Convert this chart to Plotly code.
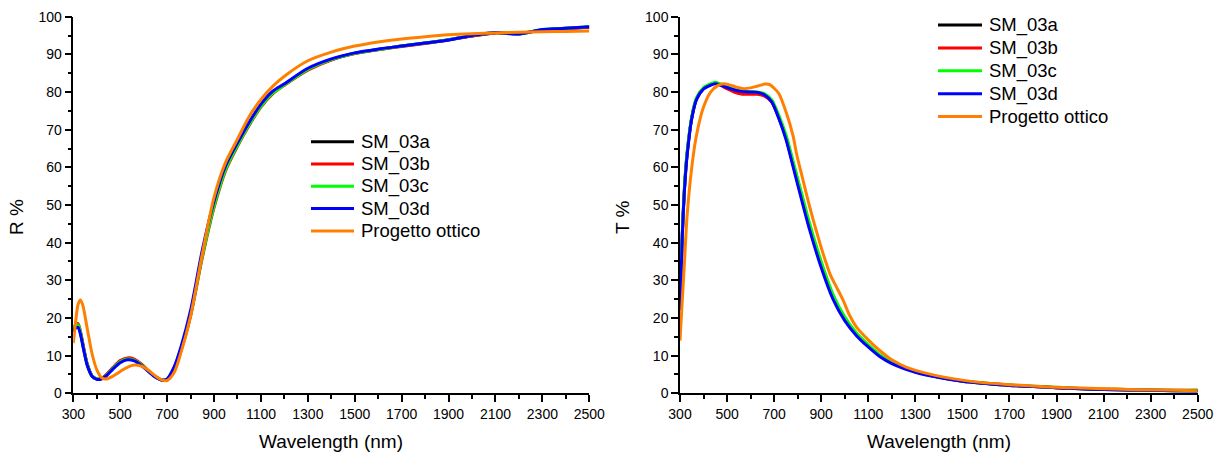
import plotly.graph_objects as go

# ---------------- data: reflectance (left panel) ----------------
WL_R = [300, 310, 320, 330, 345, 360, 380, 400, 420, 440, 470, 500, 530, 560, 590, 620, 650, 680, 700,
        730, 760, 800, 850, 900, 950, 1000, 1050, 1100, 1150, 1200, 1300, 1400, 1500, 1600, 1700, 1800,
        1900, 2000, 2100, 2200, 2300, 2400, 2500]
R_SM_03a = [16.8, 17.9, 18.0, 16.2, 11.6, 7.5, 4.6, 3.8, 3.9, 4.8, 6.8, 8.5, 9.2, 8.9, 7.6, 5.9, 4.4, 3.5, 3.7,
            6.8, 12.0, 21.0, 36.8, 50.0, 59.8, 66.0, 71.5, 76.3, 79.8, 82.0, 86.0, 88.6, 90.3, 91.3, 92.2, 93.0,
            93.9, 94.9, 95.7, 95.5, 96.5, 96.9, 97.2]
R_SM_03b = [17.2, 18.3, 18.5, 16.6, 11.9, 7.7, 4.7, 3.8, 3.9, 4.9, 6.9, 8.7, 9.4, 9.1, 7.8, 6.0, 4.4, 3.5, 3.6,
            6.5, 11.5, 20.5, 36.0, 49.3, 59.2, 65.6, 71.2, 76.0, 79.5, 81.8, 85.8, 88.5, 90.2, 91.2, 92.1, 92.9,
            93.8, 94.9, 95.7, 95.4, 96.5, 96.8, 97.2]
R_SM_03c = [16.9, 18.0, 18.2, 16.3, 11.6, 7.5, 4.6, 3.8, 3.9, 4.7, 6.7, 8.4, 9.1, 8.8, 7.6, 5.9, 4.4, 3.5, 3.6,
            6.7, 11.8, 20.8, 36.4, 49.7, 59.5, 65.8, 71.4, 76.2, 79.7, 81.9, 86.0, 88.6, 90.3, 91.3, 92.2, 93.0,
            93.9, 95.0, 95.8, 95.4, 96.6, 96.9, 97.4]
R_SM_03d = [16.3, 17.3, 17.5, 15.8, 11.3, 7.3, 4.5, 3.7, 3.8, 4.6, 6.5, 8.1, 8.9, 8.6, 7.4, 5.8, 4.3, 3.5, 3.8,
            7.0, 12.5, 22.0, 38.0, 51.0, 60.5, 66.5, 72.0, 76.8, 80.2, 82.2, 86.3, 88.8, 90.4, 91.4, 92.2, 93.0,
            93.8, 95.0, 95.8, 95.4, 96.6, 96.9, 97.3]
WL_R_DESIGN = [300, 310, 320, 330, 340, 360, 380, 400, 420, 440, 470, 500, 530, 560, 590, 620, 650, 680, 700,
               730, 760, 800, 850, 900, 947, 1000, 1050, 1100, 1150, 1200, 1300, 1400, 1500, 1600, 1700, 1800,
               1900, 2000, 2100, 2200, 2300, 2400, 2500]
R_DESIGN = [13.3, 19.0, 23.5, 24.8, 23.5, 17.0, 10.5, 6.3, 4.2, 3.8, 4.6, 5.8, 6.9, 7.5, 7.2, 6.1, 4.6, 3.5, 3.4,
            5.5, 11.0, 20.5, 37.0, 52.0, 61.0, 67.5, 73.5, 78.0, 81.5, 84.2, 88.3, 90.6, 92.2, 93.3, 94.1, 94.7,
            95.2, 95.5, 95.7, 95.9, 96.0, 96.1, 96.2]

# ---------------- data: transmittance (right panel) ----------------
WL_T = [300, 310, 320, 330, 350, 370, 400, 430, 450, 470, 500, 530, 560, 600, 630, 660, 690, 720, 750, 780,
        810, 850, 900, 950, 1000, 1050, 1100, 1150, 1200, 1300, 1400, 1500, 1600, 1700, 1800, 1900, 2000,
        2100, 2200, 2300, 2400, 2500]
T_SM_03a = [22.3, 42.3, 55.3, 63.3, 73.1, 78.1, 80.9, 81.9, 82.3, 81.9, 81.1, 80.4, 80.0, 79.8, 79.7, 79.1,
            77.4, 73.2, 67.9, 60.8, 53.6, 44.2, 34.0, 25.6, 19.7, 15.6, 12.5, 9.9, 8.1, 5.7, 4.3, 3.2, 2.6, 2.1,
            1.8, 1.5, 1.2, 1.0, 0.9, 0.8, 0.7, 0.7]
T_SM_03b = [22.5, 42.5, 55.5, 63.5, 73.2, 78.2, 80.9, 81.9, 82.3, 81.8, 80.9, 80.0, 79.5, 79.4, 79.4, 78.9,
            77.3, 73.3, 68.2, 61.2, 54.2, 44.8, 34.6, 26.0, 20.0, 15.8, 12.7, 10.0, 8.2, 5.8, 4.3, 3.3, 2.7, 2.2,
            1.8, 1.5, 1.3, 1.1, 1.0, 0.9, 0.8, 0.8]
T_SM_03c = [23.0, 43.0, 56.0, 64.0, 73.5, 78.5, 81.2, 82.2, 82.6, 82.2, 81.4, 80.7, 80.3, 80.1, 80.0, 79.5,
            77.9, 73.8, 68.7, 61.8, 54.7, 45.3, 35.0, 26.3, 20.3, 16.0, 12.9, 10.2, 8.3, 5.9, 4.4, 3.3, 2.7, 2.2,
            1.9, 1.6, 1.3, 1.1, 1.0, 0.9, 0.8, 0.9]
T_SM_03d = [22.0, 42.0, 55.0, 63.0, 73.0, 78.0, 80.8, 81.8, 82.2, 81.9, 81.2, 80.6, 80.2, 80.0, 79.9, 79.2,
            77.4, 73.0, 67.5, 60.3, 53.0, 43.6, 33.4, 25.0, 19.3, 15.3, 12.3, 9.7, 7.9, 5.6, 4.2, 3.2, 2.6, 2.1,
            1.8, 1.5, 1.2, 1.0, 0.9, 0.8, 0.7, 0.6]
WL_T_DESIGN = [300, 310, 320, 330, 350, 370, 400, 430, 460, 484, 510, 540, 570, 600, 630, 660, 680, 700, 720,
               750, 780, 796, 820, 852, 880, 909, 940, 966, 994, 1020, 1051, 1100, 1150, 1200, 1263, 1362, 1500,
               1575, 1700, 1787, 1900, 2000, 2212, 2350, 2500]
T_DESIGN = [14.0, 25.0, 36.0, 47.0, 60.0, 68.5, 76.0, 80.0, 81.7, 82.2, 81.9, 81.3, 80.9, 81.1, 81.6, 82.1,
            82.0, 81.0, 79.6, 74.8, 68.5, 63.4, 57.3, 49.3, 43.0, 36.9, 31.3, 28.1, 24.6, 20.8, 17.5, 14.2, 11.3,
            8.9, 6.9, 5.1, 3.5, 2.9, 2.3, 2.0, 1.6, 1.4, 1.0, 0.85, 0.7]

NAMES = ["SM_03a", "SM_03b", "SM_03c", "SM_03d", "Progetto ottico"]
COLORS = ["#000000", "#FF0000", "#00FF00", "#0000FF", "#FF8000"]

W, H = 1223, 454
FONT = "Arial, Liberation Sans, sans-serif"

fig = go.Figure()

left_series = [(WL_R, R_SM_03a), (WL_R, R_SM_03b), (WL_R, R_SM_03c), (WL_R, R_SM_03d), (WL_R_DESIGN, R_DESIGN)]
right_series = [(WL_T, T_SM_03a), (WL_T, T_SM_03b), (WL_T, T_SM_03c), (WL_T, T_SM_03d), (WL_T_DESIGN, T_DESIGN)]

for (x, y), name, col in zip(left_series, NAMES, COLORS):
    fig.add_trace(go.Scatter(x=x, y=y, name=name, mode="lines", showlegend=False,
                             line=dict(color=col, width=3, shape="spline", smoothing=0.8),
                             xaxis="x", yaxis="y"))
for (x, y), name, col in zip(right_series, NAMES, COLORS):
    fig.add_trace(go.Scatter(x=x, y=y, name=name, mode="lines", showlegend=False,
                             line=dict(color=col, width=3, shape="spline", smoothing=0.8),
                             xaxis="x2", yaxis="y2"))

ydom = [(H - 393.3) / H, (H - 16.7) / H]

def xax(domain, anchor):
    return dict(domain=domain, anchor=anchor, range=[300, 2500], tick0=300, dtick=200, automargin=False,
                showline=True, linecolor="black", linewidth=1.5, mirror=False,
                ticks="outside", ticklen=7, tickwidth=1.5, tickcolor="black",
                minor=dict(ticks="outside", ticklen=4, tickwidth=1.5, tickcolor="black", dtick=100, tick0=300),
                showgrid=False, zeroline=False, tickfont=dict(family=FONT, size=14, color="black"))

def yax(anchor):
    return dict(domain=ydom, anchor=anchor, range=[0, 100], tick0=0, dtick=10, automargin=False,
                showline=True, linecolor="black", linewidth=1.5, mirror=False,
                ticks="outside", ticklen=7, tickwidth=1.5, tickcolor="black",
                minor=dict(ticks="outside", ticklen=4, tickwidth=1.5, tickcolor="black", dtick=5),
                showgrid=False, zeroline=False, tickfont=dict(family=FONT, size=14, color="black"))

# ---- hand-built legends (line sample + label), positioned in pixels ----
shapes = []
annotations = []
legend_specs = [
    # (line x0, line x1, text x, first row y, row step)
    (311, 354, 359, 141.7, 22.3),
    (938, 982, 987, 25.0, 22.9),
]
for lx0, lx1, tx, y0, step in legend_specs:
    for i, (name, col) in enumerate(zip(NAMES, COLORS)):
        yy = (H - (y0 + step * i)) / H
        shapes.append(dict(type="line", xref="paper", yref="paper", x0=lx0 / W, x1=lx1 / W, y0=yy, y1=yy,
                           line=dict(color=col, width=3)))
        annotations.append(dict(text=name, x=tx / W, y=yy, xref="paper", yref="paper", xanchor="left",
                                yanchor="middle", showarrow=False,
                                font=dict(family=FONT, size=18.5, color="black")))

annotations += [
    dict(text="Wavelength (nm)", x=331 / W, y=(H - 441) / H, xref="paper", yref="paper",
         xanchor="center", yanchor="middle", showarrow=False, font=dict(family=FONT, size=19)),
    dict(text="Wavelength (nm)", x=939 / W, y=(H - 441) / H, xref="paper", yref="paper",
         xanchor="center", yanchor="middle", showarrow=False, font=dict(family=FONT, size=19)),
    dict(text="R %", x=16 / W, y=(H - 217) / H, xref="paper", yref="paper", textangle=-90,
         xanchor="center", yanchor="middle", showarrow=False, font=dict(family=FONT, size=19)),
    dict(text="T %", x=622 / W, y=(H - 217) / H, xref="paper", yref="paper", textangle=-90,
         xanchor="center", yanchor="middle", showarrow=False, font=dict(family=FONT, size=19)),
]

fig.update_layout(
    width=W, height=H,
    margin=dict(l=0, r=0, t=0, b=0),
    paper_bgcolor="white", plot_bgcolor="white",
    font=dict(family=FONT, color="black"),
    showlegend=False,
    xaxis=xax([73.3 / W, 589.3 / W], "y"),
    yaxis=yax("x"),
    xaxis2=xax([680 / W, 1197.7 / W], "y2"),
    yaxis2=yax("x2"),
    shapes=shapes,
    annotations=annotations,
)

fig.write_html("out.html")
